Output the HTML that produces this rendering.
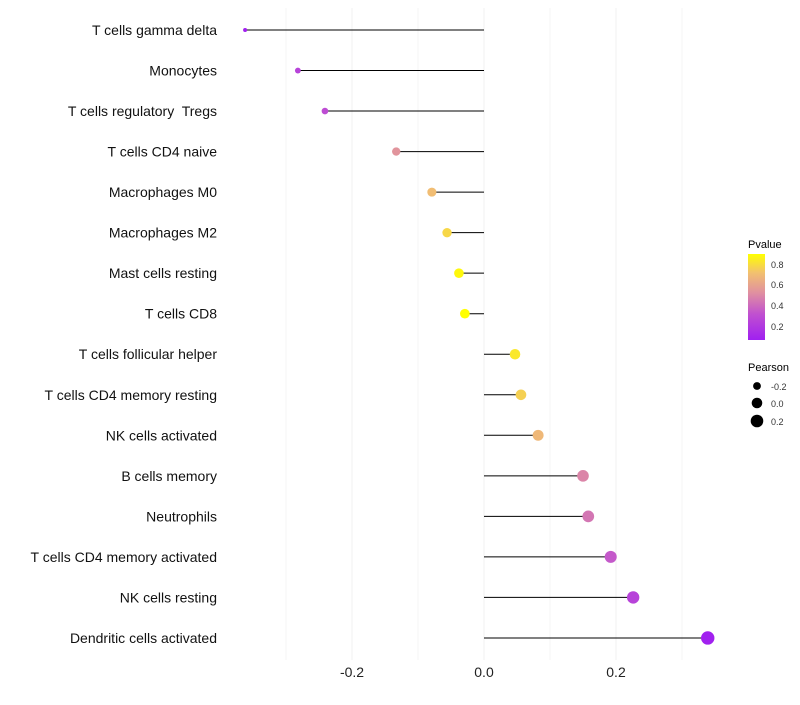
<!DOCTYPE html>
<html><head><meta charset="utf-8"><style>
body{margin:0;background:#fff;font-family:"Liberation Sans",sans-serif}
svg text{font-family:"Liberation Sans",sans-serif;white-space:pre}
</style></head><body>
<svg id="chart" width="800" height="700">
<defs><linearGradient id="pg" x1="0" y1="1" x2="0" y2="0">
<stop offset="0" stop-color="#A020F0"/><stop offset="0.3" stop-color="#C050D0"/><stop offset="0.55" stop-color="#E090A0"/><stop offset="0.78" stop-color="#F2C070"/><stop offset="1" stop-color="#FFFF00"/>
</linearGradient></defs>
<g id="grid"></g><g id="marks"></g><g id="labels"></g><g id="legend"></g>
</svg>
<script>
const categories=["T cells gamma delta","Monocytes","T cells regulatory  Tregs","T cells CD4 naive","Macrophages M0","Macrophages M2","Mast cells resting","T cells CD8","T cells follicular helper","T cells CD4 memory resting","NK cells activated","B cells memory","Neutrophils","T cells CD4 memory activated","NK cells resting","Dendritic cells activated"];
const pearson=[-0.362,-0.282,-0.241,-0.133,-0.079,-0.056,-0.038,-0.029,0.047,0.056,0.082,0.150,0.158,0.192,0.226,0.339];
const pvalue=[0.07,0.25,0.3,0.55,0.72,0.8,0.9,0.92,0.85,0.78,0.7,0.5,0.45,0.35,0.25,0.07];
const xTicks=[-0.2,0,0.2];
const xTickLabels=["-0.2","0.0","0.2"];
const gridVals=[-0.3,-0.2,-0.1,0,0.1,0.2,0.3];
const NS="http://www.w3.org/2000/svg";
const x=v=>484+v*660;
const y=i=>30+i*40.53;
const stops=[[0,[160,32,240]],[0.3,[192,80,208]],[0.55,[224,144,160]],[0.78,[242,192,112]],[1,[255,255,0]]];
function col(p){let t=(p-0.065)/(0.92-0.065);t=Math.max(0,Math.min(1,t));
for(let k=1;k<stops.length;k++){if(t<=stops[k][0]){const a=stops[k-1],b=stops[k];const f=(t-a[0])/(b[0]-a[0]);
return "rgb("+a[1].map((c,j)=>Math.round(c+(b[1][j]-c)*f)).join(",")+")";}}return "rgb(255,255,0)";}
const rad=v=>Math.sqrt(4+(v+0.362)/0.701*40.9);
function mk(tag,attrs,parent){const e=document.createElementNS(NS,tag);for(const k in attrs)e.setAttribute(k,attrs[k]);document.getElementById(parent).appendChild(e);return e;}
gridVals.forEach(v=>{const major=Math.abs(Math.round(v*10))%2===0;
const l=mk("line",{x1:x(v),x2:x(v),y1:8,y2:660,stroke:major?"#f0f0f0":"#f5f5f5","stroke-width":1},"grid");

});
categories.forEach((c,i)=>{
const s=mk("line",{x1:x(0),x2:x(pearson[i]),y1:y(i),y2:y(i),stroke:"#000","stroke-width":1},"marks");


const p=mk("circle",{cx:x(pearson[i]),cy:y(i),r:rad(pearson[i]),fill:col(pvalue[i])},"marks");


const t=mk("text",{x:217,y:y(i)+5,"text-anchor":"end","font-size":14,fill:"#111"},"labels");t.textContent=c;


});
xTicks.forEach((v,i)=>{const t=mk("text",{x:x(v),y:677,"text-anchor":"middle","font-size":14,fill:"#222"},"labels");t.textContent=xTickLabels[i];

});
const L=document.getElementById("legend");
L.innerHTML='<text x="748" y="248" font-size="11">Pvalue</text>'+
'<rect x="748" y="254" width="17" height="86" fill="url(#pg)"/>'+
'<g font-size="9" fill="#333"><text x="771" y="268">0.8</text><text x="771" y="288">0.6</text><text x="771" y="309">0.4</text><text x="771" y="330">0.2</text></g>'+
'<text x="748" y="371" font-size="11">Pearson</text>'+
'<circle cx="757" cy="386" r="3.9" fill="#000"/><text x="771" y="390" font-size="9" fill="#333">-0.2</text>'+
'<circle cx="757" cy="403" r="5.3" fill="#000"/><text x="771" y="407" font-size="9" fill="#333">0.0</text>'+
'<circle cx="757" cy="421" r="6.3" fill="#000"/><text x="771" y="425" font-size="9" fill="#333">0.2</text>';
</script>
</body></html>
